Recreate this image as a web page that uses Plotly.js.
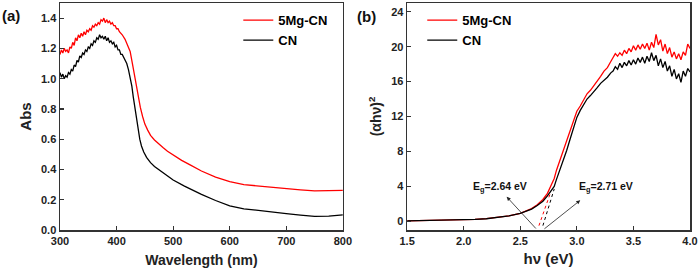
<!DOCTYPE html>
<html><head><meta charset="utf-8">
<script src="https://cdn.plot.ly/plotly-3.0.1.min.js"></script>
<style>html,body{margin:0;padding:0;background:#fff;}</style>
</head><body><div id="chart" style="width:700px;height:274px;"></div>
<script>
// Panel (a): absorbance spectra
const wlRed = [300,302.5,305,307.5,310,312.5,315,317.5,320,322.5,325,327.5,330,332.5,335,337.5,340,342.5,345,347.5,350,352.5,355,357.5,360,362.5,365,367.5,370,372.5,375,377.5,380,382.5,385,387.5,390,392.5,395,397.5,400,402.5,405,407.5,410,415,420,424,428,432,435,438,442,446,450,455,460,467,475,482,490,500,515,530,550,575,600,625,650,675,700,725,750,775,800];
const absRed = [1.16,1.19,1.17,1.20,1.18,1.19,1.17,1.21,1.20,1.24,1.22,1.27,1.25,1.29,1.27,1.30,1.28,1.31,1.29,1.32,1.31,1.33,1.32,1.35,1.34,1.36,1.35,1.37,1.36,1.39,1.38,1.40,1.37,1.39,1.37,1.38,1.36,1.37,1.35,1.35,1.33,1.33,1.31,1.30,1.29,1.26,1.22,1.18,1.10,1.01,0.94,0.88,0.81,0.75,0.70,0.66,0.625,0.595,0.565,0.545,0.52,0.495,0.46,0.43,0.39,0.35,0.32,0.30,0.29,0.28,0.27,0.265,0.258,0.258,0.262];
const wlBlack = [300,302.5,305,307.5,310,312.5,315,317.5,320,322.5,325,327.5,330,332.5,335,337.5,340,342.5,345,347.5,350,352.5,355,357.5,360,362.5,365,367.5,370,372.5,375,377.5,380,382.5,385,387.5,390,392.5,395,397.5,400,402.5,405,407.5,410,414,418,421,424,427,429.5,432.5,435.5,438,441,444,448,453,460,467,474,485,500,520,550,575,600,625,650,675,700,725,750,775,800];
const absBlack = [1.04,1.01,1.03,1.00,1.02,1.01,1.04,1.03,1.06,1.05,1.09,1.08,1.12,1.11,1.15,1.14,1.17,1.16,1.19,1.18,1.21,1.20,1.23,1.22,1.25,1.24,1.27,1.26,1.29,1.27,1.28,1.26,1.28,1.25,1.27,1.24,1.25,1.23,1.24,1.21,1.22,1.19,1.19,1.16,1.16,1.13,1.10,1.06,1.01,0.95,0.88,0.80,0.72,0.66,0.60,0.555,0.515,0.48,0.445,0.42,0.40,0.37,0.33,0.29,0.235,0.195,0.16,0.14,0.128,0.118,0.108,0.098,0.09,0.092,0.10];

// Panel (b): Tauc plot
const evRed = [1.5,1.7,1.9,2.0,2.1,2.2,2.3,2.4,2.5,2.55,2.6,2.65,2.7,2.74,2.77,2.8,2.82,2.85,2.88,2.91,2.94,2.97,3.0,3.03,3.06,3.09,3.12,3.15,3.18,3.21,3.24,3.27,3.3,3.32,3.34,3.36,3.38,3.4,3.42,3.44,3.46,3.48,3.5,3.52,3.54,3.56,3.58,3.6,3.62,3.64,3.66,3.68,3.7,3.72,3.74,3.76,3.78,3.8,3.82,3.84,3.86,3.88,3.9,3.92,3.94,3.96,3.98,4.0];
const taucRed = [0.05,0.08,0.13,0.17,0.22,0.3,0.42,0.62,0.9,1.15,1.45,1.9,2.5,3.2,4.0,4.9,5.85,7.0,8.1,9.3,10.4,11.6,12.6,13.2,13.9,14.6,15.0,15.5,16.0,16.6,17.2,17.6,18.3,18.8,19.2,18.9,19.3,19.0,19.6,19.2,19.8,19.4,20.1,19.6,20.2,19.7,20.3,19.8,20.4,19.6,20.5,19.9,21.4,20.2,20.8,19.5,20.3,19.2,19.9,18.8,19.4,18.6,19.2,18.5,19.4,19.0,20.3,19.8];
const evBlack = evRed;
const taucBlack = [0.04,0.07,0.12,0.16,0.21,0.29,0.42,0.62,0.9,1.12,1.4,1.8,2.3,2.9,3.4,4.0,4.8,5.85,7.0,8.1,9.4,10.8,11.9,12.7,13.4,14.0,14.4,14.8,15.3,15.8,16.1,16.5,17.0,17.2,17.7,17.4,18.1,17.6,18.2,17.8,18.4,17.9,18.5,18.0,18.7,18.2,18.8,18.1,18.9,18.3,19.3,18.4,19.0,17.8,18.6,17.6,18.3,17.2,17.8,16.6,17.4,16.3,16.9,15.9,17.2,16.6,17.5,17.1];

// Tangent (extrapolation) lines
const tanRedX = [2.665, 2.765], tanRedY = [-0.5, 3.2];
const tanBlackX = [2.70, 2.80], tanBlackY = [-0.5, 3.7];

const seriesNames = ['5Mg-CN', 'CN'];
const egLabels = ['E<sub>g</sub>=2.64 eV', 'E<sub>g</sub>=2.71 eV'];

const RED = '#ff0000', BLACK = '#000000';
const FAM = 'Arial, Liberation Sans, sans-serif';
const tickFont = {family: FAM, size: 11, color: '#222', weight: 'bold'};
const titleFont = {family: FAM, size: 14, color: '#222', weight: 'bold'};

const traces = [
  {x: wlRed, y: absRed, type: 'scatter', mode: 'lines', name: seriesNames[0], line: {color: RED, width: 1.3}, xaxis: 'x', yaxis: 'y', legend: 'legend'},
  {x: wlBlack, y: absBlack, type: 'scatter', mode: 'lines', name: seriesNames[1], line: {color: BLACK, width: 1.3}, xaxis: 'x', yaxis: 'y', legend: 'legend'},
  {x: evRed, y: taucRed, type: 'scatter', mode: 'lines', name: seriesNames[0], line: {color: RED, width: 1.3}, xaxis: 'x2', yaxis: 'y2', legend: 'legend2'},
  {x: evBlack, y: taucBlack, type: 'scatter', mode: 'lines', name: seriesNames[1], line: {color: BLACK, width: 1.3}, xaxis: 'x2', yaxis: 'y2', legend: 'legend2'},
  {x: tanRedX, y: tanRedY, type: 'scatter', mode: 'lines', showlegend: false, line: {color: RED, width: 1, dash: '3px,3px'}, xaxis: 'x2', yaxis: 'y2'},
  {x: tanBlackX, y: tanBlackY, type: 'scatter', mode: 'lines', showlegend: false, line: {color: BLACK, width: 1, dash: '3px,3px'}, xaxis: 'x2', yaxis: 'y2'}
];

const axisCommon = {
  showline: true, linecolor: '#333', linewidth: 1.5, mirror: true,
  ticks: 'inside', ticklen: 4, tickcolor: '#333', tickwidth: 1.2,
  showgrid: false, zeroline: false, tickfont: tickFont
};

const legendCommon = {
  font: {family: FAM, size: 13, color: '#000', weight: 'bold'},
  bgcolor: 'rgba(0,0,0,0)', borderwidth: 0, xanchor: 'left', yanchor: 'top',
  itemwidth: 30, tracegroupgap: 0
};

const layout = {
  width: 700, height: 274,
  margin: {l: 60, r: 10, t: 3, b: 44},
  paper_bgcolor: '#fff', plot_bgcolor: '#fff',
  showlegend: true,
  xaxis: Object.assign({}, axisCommon, {domain: [0, 0.449], range: [300, 800], dtick: 100, tick0: 300,
    title: {text: 'Wavelength (nm)', font: titleFont, standoff: 9}, anchor: 'y'}),
  yaxis: Object.assign({}, axisCommon, {range: [0, 1.5], dtick: 0.2, tick0: 0, tickformat: '.1f',
    title: {text: 'Abs', font: {family: FAM, size: 15, color: '#222', weight: 'bold'}, standoff: 6}, anchor: 'x'}),
  xaxis2: Object.assign({}, axisCommon, {domain: [0.551, 1], range: [1.5, 4.0], dtick: 0.5, tick0: 1.5, tickformat: '.1f',
    title: {text: 'hν (eV)', font: {family: FAM, size: 15, color: '#222', weight: 'bold'}, standoff: 8}, anchor: 'y2'}),
  yaxis2: Object.assign({}, axisCommon, {range: [-1, 25], dtick: 4, tick0: 0,
    title: {text: '(αhν)<sup>2</sup>', font: {family: FAM, size: 14, color: '#222', weight: 'bold'}, standoff: 6}, anchor: 'x2'}),
  legend: Object.assign({}, legendCommon, {x: 0.283, y: 0.99}),
  legend2: Object.assign({}, legendCommon, {x: 0.575, y: 0.99}),
  annotations: [
    {xref: 'paper', yref: 'paper', x: -0.095, y: 0.99, xanchor: 'left', yanchor: 'top', showarrow: false,
     text: '(a)', font: {family: FAM, size: 15, color: '#111', weight: 'bold'}},
    {xref: 'paper', yref: 'paper', x: 0.468, y: 0.985, xanchor: 'left', yanchor: 'top', showarrow: false,
     text: '(b)', font: {family: FAM, size: 15, color: '#111', weight: 'bold'}},
    {xref: 'x2', yref: 'y2', x: 2.38, y: 2.8, axref: 'x2', ayref: 'y2', ax: 2.65, ay: -1.0,
     showarrow: true, arrowhead: 2, arrowsize: 1, arrowwidth: 0.8, arrowcolor: '#222', text: ''},
    {xref: 'x2', yref: 'y2', x: 3.03, y: 2.4, axref: 'x2', ayref: 'y2', ax: 2.70, ay: -1.0,
     showarrow: true, arrowhead: 2, arrowsize: 1, arrowwidth: 0.8, arrowcolor: '#222', text: ''},
    {xref: 'x2', yref: 'y2', x: 2.32, y: 3.9, showarrow: false, text: egLabels[0],
     font: {family: FAM, size: 10.5, color: '#111', weight: 'bold'}},
    {xref: 'x2', yref: 'y2', x: 3.26, y: 3.9, showarrow: false, text: egLabels[1],
     font: {family: FAM, size: 10.5, color: '#111', weight: 'bold'}}
  ]
};

Plotly.newPlot('chart', traces, layout, {staticPlot: true, displayModeBar: false});
</script>
</body></html>
